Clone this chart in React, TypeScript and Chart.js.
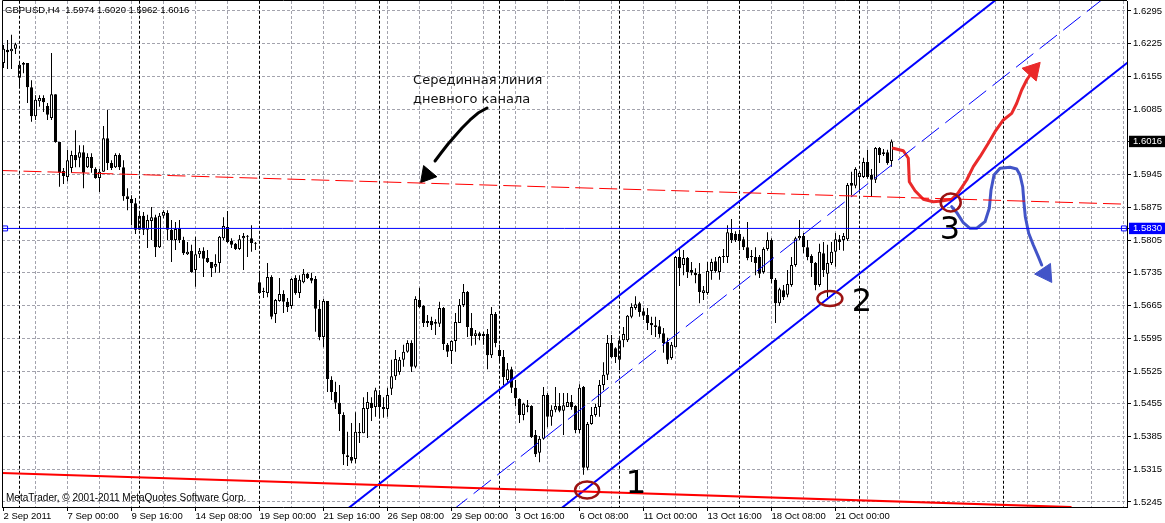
import React, { useEffect, useRef } from 'react';
import { Chart, registerables } from 'chart.js';

Chart.register(...registerables);

// ---------------- candle data (GBPUSD, H4) ----------------
const openPrices = [
  1.6184,1.6212,1.6209,1.6214,1.6152,1.6180,1.6184,1.6132,1.6070,1.6102,
  1.6109,1.6092,1.6066,1.6117,1.6015,1.5953,1.5940,1.5959,1.5987,1.5981,
  1.5993,1.5961,1.5983,1.5957,1.5938,1.5951,1.6023,1.5970,1.5961,1.5987,
  1.5961,1.5899,1.5893,1.5884,1.5827,1.5857,1.5827,1.5846,1.5854,1.5790,
  1.5857,1.5863,1.5827,1.5805,1.5831,1.5805,1.5775,1.5782,1.5741,1.5775,
  1.5782,1.5767,1.5758,1.5748,1.5756,1.5809,1.5833,1.5803,1.5797,1.5786,
  1.5809,1.5812,1.5809,1.5799,1.5715,1.5694,1.5692,1.5726,1.5647,1.5675,
  1.5690,1.5673,1.5664,1.5724,1.5692,1.5715,1.5733,1.5724,1.5722,1.5658,
  1.5598,1.5675,1.5506,1.5480,1.5457,1.5431,1.5345,1.5341,1.5337,1.5395,
  1.5392,1.5444,1.5457,1.5448,1.5474,1.5448,1.5444,1.5487,1.5514,1.5523,
  1.5549,1.5566,1.5585,1.5534,1.5677,1.5664,1.5628,1.5632,1.5626,1.5626,
  1.5660,1.5581,1.5568,1.5589,1.5628,1.5666,1.5694,1.5617,1.5600,1.5606,
  1.5600,1.5604,1.5559,1.5647,1.5570,1.5555,1.5506,1.5529,1.5489,1.5465,
  1.5431,1.5452,1.5450,1.5388,1.5350,1.5380,1.5474,1.5427,1.5442,1.5450,
  1.5440,1.5448,1.5459,1.5450,1.5399,1.5491,1.5318,1.5412,1.5431,1.5448,
  1.5495,1.5517,1.5585,1.5574,1.5549,1.5591,1.5591,1.5641,1.5660,1.5670,
  1.5653,1.5645,1.5628,1.5623,1.5621,1.5606,1.5587,1.5553,1.5576,1.5769,
  1.5752,1.5767,1.5741,1.5735,1.5733,1.5692,1.5692,1.5739,1.5760,1.5737,
  1.5769,1.5769,1.5820,1.5818,1.5818,1.5807,1.5790,1.5769,1.5769,1.5769,
  1.5737,1.5786,1.5805,1.5720,1.5670,1.5698,1.5688,1.5709,1.5752,1.5809,
  1.5814,1.5790,1.5771,1.5756,1.5709,1.5777,1.5733,1.5756,1.5780,1.5807,
  1.5805,1.5807,1.5927,1.5921,1.5940,1.5940,1.5972,1.5944,1.5934,1.6002,
  1.5989,1.5993,1.5974,
];

const highPrices = [
  1.6222,1.6233,1.6244,1.6227,1.6184,1.6186,1.6184,1.6147,1.6115,1.6115,
  1.6115,1.6098,1.6205,1.6117,1.6015,1.5959,1.5998,1.5996,1.6040,1.6008,
  1.6008,1.5991,1.5991,1.5961,1.5957,1.6049,1.6083,1.5976,1.5991,1.5991,
  1.5976,1.5916,1.5901,1.5895,1.5865,1.5865,1.5859,1.5876,1.5859,1.5863,
  1.5869,1.5869,1.5848,1.5844,1.5848,1.5812,1.5801,1.5795,1.5812,1.5788,
  1.5790,1.5784,1.5758,1.5775,1.5814,1.5854,1.5867,1.5809,1.5799,1.5816,
  1.5820,1.5816,1.5837,1.5801,1.5735,1.5703,1.5756,1.5730,1.5679,1.5724,
  1.5698,1.5681,1.5724,1.5730,1.5730,1.5743,1.5735,1.5735,1.5728,1.5677,
  1.5679,1.5675,1.5514,1.5502,1.5495,1.5437,1.5395,1.5414,1.5437,1.5414,
  1.5469,1.5480,1.5469,1.5489,1.5484,1.5469,1.5489,1.5549,1.5570,1.5555,
  1.5581,1.5591,1.5591,1.5685,1.5703,1.5666,1.5645,1.5641,1.5636,1.5673,
  1.5662,1.5585,1.5591,1.5649,1.5679,1.5711,1.5696,1.5649,1.5613,1.5609,
  1.5609,1.5615,1.5662,1.5651,1.5581,1.5570,1.5542,1.5534,1.5506,1.5467,
  1.5457,1.5463,1.5452,1.5399,1.5386,1.5491,1.5478,1.5452,1.5491,1.5478,
  1.5478,1.5478,1.5474,1.5452,1.5497,1.5493,1.5416,1.5448,1.5455,1.5506,
  1.5544,1.5602,1.5602,1.5576,1.5598,1.5619,1.5645,1.5670,1.5685,1.5673,
  1.5660,1.5660,1.5641,1.5641,1.5634,1.5617,1.5596,1.5587,1.5771,1.5788,
  1.5784,1.5769,1.5758,1.5745,1.5756,1.5707,1.5758,1.5765,1.5769,1.5771,
  1.5786,1.5837,1.5850,1.5824,1.5827,1.5812,1.5844,1.5784,1.5790,1.5773,
  1.5790,1.5822,1.5809,1.5724,1.5703,1.5709,1.5741,1.5769,1.5812,1.5848,
  1.5820,1.5805,1.5775,1.5758,1.5797,1.5801,1.5795,1.5801,1.5820,1.5816,
  1.5820,1.5927,1.5951,1.5961,1.5953,1.5981,1.5998,1.5957,1.6004,1.6004,
  1.6000,1.5998,1.6020,
];

const lowPrices = [
  1.6173,1.6171,1.6171,1.6203,1.6132,1.6162,1.6098,1.6058,1.6062,1.6090,
  1.6079,1.6062,1.6062,1.6013,1.5919,1.5925,1.5931,1.5949,1.5961,1.5961,
  1.5916,1.5959,1.5949,1.5936,1.5908,1.5951,1.5955,1.5955,1.5959,1.5955,
  1.5889,1.5869,1.5837,1.5818,1.5827,1.5816,1.5788,1.5805,1.5769,1.5788,
  1.5852,1.5805,1.5758,1.5784,1.5799,1.5773,1.5773,1.5735,1.5705,1.5767,
  1.5726,1.5756,1.5726,1.5735,1.5735,1.5805,1.5799,1.5788,1.5784,1.5784,
  1.5741,1.5769,1.5780,1.5784,1.5692,1.5681,1.5683,1.5636,1.5628,1.5673,
  1.5649,1.5651,1.5658,1.5688,1.5681,1.5713,1.5722,1.5713,1.5609,1.5591,
  1.5576,1.5480,1.5463,1.5444,1.5397,1.5324,1.5322,1.5328,1.5328,1.5371,
  1.5392,1.5382,1.5418,1.5427,1.5427,1.5425,1.5427,1.5474,1.5506,1.5517,
  1.5534,1.5564,1.5523,1.5531,1.5660,1.5619,1.5619,1.5613,1.5602,1.5619,
  1.5570,1.5555,1.5540,1.5566,1.5628,1.5662,1.5598,1.5579,1.5581,1.5591,
  1.5581,1.5529,1.5553,1.5576,1.5544,1.5495,1.5499,1.5478,1.5450,1.5414,
  1.5420,1.5437,1.5382,1.5341,1.5330,1.5378,1.5405,1.5408,1.5437,1.5437,
  1.5388,1.5448,1.5442,1.5392,1.5392,1.5303,1.5313,1.5410,1.5427,1.5427,
  1.5484,1.5506,1.5553,1.5542,1.5527,1.5576,1.5587,1.5638,1.5656,1.5641,
  1.5634,1.5613,1.5602,1.5598,1.5596,1.5564,1.5540,1.5549,1.5576,1.5707,
  1.5730,1.5724,1.5730,1.5713,1.5670,1.5677,1.5688,1.5720,1.5735,1.5720,
  1.5756,1.5756,1.5799,1.5801,1.5784,1.5784,1.5762,1.5758,1.5730,1.5724,
  1.5733,1.5782,1.5713,1.5628,1.5664,1.5677,1.5683,1.5705,1.5748,1.5805,
  1.5777,1.5762,1.5726,1.5698,1.5705,1.5726,1.5683,1.5752,1.5748,1.5784,
  1.5782,1.5803,1.5901,1.5916,1.5912,1.5938,1.5936,1.5897,1.5927,1.5970,
  1.5985,1.5966,1.5962,
];

const closePrices = [
  1.6214,1.6207,1.6214,1.6224,1.6180,1.6184,1.6132,1.6070,1.6105,1.6109,
  1.6100,1.6073,1.6117,1.6015,1.5949,1.5942,1.5976,1.5987,1.5976,1.5993,
  1.5949,1.5983,1.5959,1.5938,1.5951,1.6023,1.5970,1.5959,1.5987,1.5961,
  1.5899,1.5893,1.5884,1.5827,1.5857,1.5827,1.5848,1.5854,1.5790,1.5857,
  1.5865,1.5827,1.5805,1.5829,1.5805,1.5777,1.5780,1.5737,1.5775,1.5782,
  1.5765,1.5758,1.5745,1.5754,1.5812,1.5835,1.5801,1.5795,1.5786,1.5807,
  1.5814,1.5814,1.5799,1.5797,1.5692,1.5696,1.5726,1.5641,1.5677,1.5690,
  1.5673,1.5662,1.5722,1.5692,1.5720,1.5733,1.5724,1.5718,1.5658,1.5598,
  1.5675,1.5508,1.5480,1.5457,1.5433,1.5347,1.5341,1.5333,1.5395,1.5392,
  1.5446,1.5459,1.5446,1.5484,1.5448,1.5444,1.5474,1.5514,1.5551,1.5549,
  1.5566,1.5585,1.5534,1.5679,1.5662,1.5628,1.5632,1.5623,1.5630,1.5660,
  1.5583,1.5566,1.5589,1.5630,1.5666,1.5694,1.5619,1.5600,1.5606,1.5600,
  1.5604,1.5559,1.5647,1.5585,1.5557,1.5512,1.5529,1.5489,1.5467,1.5431,
  1.5455,1.5448,1.5384,1.5347,1.5380,1.5474,1.5427,1.5442,1.5450,1.5440,
  1.5452,1.5459,1.5448,1.5399,1.5489,1.5318,1.5412,1.5431,1.5448,1.5495,
  1.5517,1.5585,1.5555,1.5555,1.5591,1.5604,1.5643,1.5662,1.5668,1.5651,
  1.5643,1.5628,1.5623,1.5619,1.5604,1.5585,1.5549,1.5581,1.5769,1.5745,
  1.5767,1.5737,1.5735,1.5730,1.5694,1.5698,1.5739,1.5758,1.5739,1.5769,
  1.5771,1.5822,1.5805,1.5805,1.5803,1.5790,1.5767,1.5771,1.5756,1.5733,
  1.5786,1.5805,1.5722,1.5670,1.5700,1.5683,1.5711,1.5752,1.5809,1.5814,
  1.5790,1.5769,1.5756,1.5709,1.5780,1.5741,1.5756,1.5780,1.5807,1.5801,
  1.5814,1.5923,1.5921,1.5957,1.5949,1.5972,1.5940,1.5934,1.6002,1.5987,
  1.5993,1.5970,1.6016,
];

// time axis labels (one every LABEL_STEP bars)
const timeLabels = [
  '2 Sep 2011', '7 Sep 00:00', '9 Sep 16:00', '14 Sep 08:00', '19 Sep 00:00',
  '21 Sep 16:00', '26 Sep 08:00', '29 Sep 00:00', '3 Oct 16:00', '6 Oct 08:00',
  '11 Oct 00:00', '13 Oct 16:00', '18 Oct 08:00', '21 Oct 00:00',
];
const LABEL_STEP = 16;
const GRID_STEP = 8;
const LAST_GRID_BAR = 280;

// price axis labels
const priceTicks = [
  1.5245, 1.5315, 1.5385, 1.5455, 1.5525, 1.5595, 1.5665, 1.5735, 1.5805,
  1.5830, 1.5875, 1.5945, 1.6016, 1.6085, 1.6155, 1.6225, 1.6295,
];
const bidPrice = 1.6016;
const hLinePrice = 1.5830;

// weekly period separators (bar index)
const weekSeparators = [4, 34, 64, 94, 124, 154, 184, 214, 250];

// visible ranges
const X_MIN = -0.375;
const X_MAX = 280.875;
const Y_MIN = 1.523424;
const Y_MAX = 1.631636;

// ---------------- drawn objects (bar index, price) ----------------
const upperChannel = [{ x: 84.125, y: 1.52176 }, { x: 251.625, y: 1.63425 }];
const lowerChannel = [{ x: 136.625, y: 1.52124 }, { x: 281.625, y: 1.61887 }];
const middleChannel = [{ x: 111.625, y: 1.52231 }, { x: 276.625, y: 1.63326 }];
const dailyMidLine = [{ x: -1, y: 1.5954 }, { x: 282, y: 1.58815 }];
const dailyLowLine = [{ x: -1, y: 1.5307 }, { x: 267, y: 1.5234 }];
const hLine = [{ x: -1, y: hLinePrice }, { x: 282, y: hLinePrice }];
const hLineAnchors = [{ x: 0.4, y: hLinePrice }, { x: 280.1, y: hLinePrice }];

const redPath = [
  { x: 222.45, y: 1.60014 }, { x: 224.95, y: 1.59962 }, { x: 226.2, y: 1.598 },
  { x: 226.45, y: 1.59299 }, { x: 227.88, y: 1.59107 }, { x: 229.95, y: 1.58923 },
  { x: 232.45, y: 1.58872 }, { x: 234.55, y: 1.58886 }, { x: 237.05, y: 1.58923 },
  { x: 238.7, y: 1.59064 }, { x: 240.8, y: 1.59336 }, { x: 242.45, y: 1.5962 },
  { x: 244.13, y: 1.59834 }, { x: 246.2, y: 1.6012 }, { x: 247.88, y: 1.60369 },
  { x: 249.95, y: 1.60619 }, { x: 252.05, y: 1.60762 }, { x: 253.3, y: 1.60976 },
  { x: 254.55, y: 1.6126 }, { x: 255.8, y: 1.61474 }, { x: 256.63, y: 1.61581 },
];
const redHead = [{ x: 257.33, y: 1.61677 }];

const bluePath = [
  { x: 237.05, y: 1.58765 }, { x: 238.45, y: 1.58623 }, { x: 239.95, y: 1.58422 },
  { x: 241.63, y: 1.58303 }, { x: 243.3, y: 1.58303 }, { x: 245.38, y: 1.58444 },
  { x: 246.45, y: 1.5873 }, { x: 246.88, y: 1.59122 }, { x: 247.63, y: 1.59443 },
  { x: 249.13, y: 1.59586 }, { x: 251.63, y: 1.59607 }, { x: 253.3, y: 1.59571 },
  { x: 254.13, y: 1.59443 }, { x: 254.8, y: 1.59192 }, { x: 255.13, y: 1.58837 },
  { x: 255.45, y: 1.58551 }, { x: 256.3, y: 1.58196 }, { x: 257.45, y: 1.57946 },
  { x: 258.7, y: 1.57695 }, { x: 259.55, y: 1.57518 },
];
const blueHead = [{ x: 260.53, y: 1.5734 }];

const blackPath = [
  { x: 120.88, y: 1.60875 }, { x: 118.63, y: 1.60768 }, { x: 116.63, y: 1.60619 },
  { x: 114.63, y: 1.60448 }, { x: 112.88, y: 1.60276 }, { x: 111.13, y: 1.60105 },
  { x: 109.38, y: 1.59913 }, { x: 107.88, y: 1.59742 },
];
const blackHead = [{ x: 105.88, y: 1.59443 }];

const circleCenters = [
  { x: 145.9, y: 1.52706 },
  { x: 206.6, y: 1.56801 },
  { x: 236.8, y: 1.58854 },
];
const circleRadii = [[12, 8.5], [12.5, 7.5], [10, 9]];

const pointLabels = [
  { text: '1', x: 158.1, y: 1.52813 },
  { text: '2', x: 214.6, y: 1.56705 },
  { text: '3', x: 236.6, y: 1.58245 },
];

const noteLines = ['Серединная линия', 'дневного канала'];
const notePos = { x: 102.4, y: 1.6147 };

const titleText = 'GBPUSD,H4  1.5974 1.6020 1.5962 1.6016';
const copyrightText = 'MetaTrader, © 2001-2011 MetaQuotes Software Corp.';

// ---------------- styles ----------------
const W = 1165;
const H = 523;
const GRID_COLOR = '#a3a3ad';
const AXIS_FONT = { family: '"Liberation Sans", Arial, sans-serif', size: 9.5 };
const CLEAR = 'rgba(0,0,0,0)';

const zeroPadding = (axis: any) => {
  axis.paddingLeft = 0;
  axis.paddingRight = 0;
  axis.paddingTop = 0;
  axis.paddingBottom = 0;
};

const overlayPlugin = {
  id: 'mtOverlay',
  beforeDraw(chart: any) {
    const { ctx, width, height } = chart;
    ctx.save();
    ctx.fillStyle = '#ffffff';
    ctx.fillRect(0, 0, width, height);
    ctx.restore();
  },
  afterDatasetsDraw(chart: any) {
    const { ctx, chartArea, scales } = chart;
    const xs = scales.x;
    const ys = scales.y;
    ctx.save();
    ctx.beginPath();
    ctx.rect(chartArea.left, chartArea.top, chartArea.right - chartArea.left, chartArea.bottom - chartArea.top);
    ctx.clip();

    ctx.strokeStyle = '#9b1212';
    ctx.lineWidth = 2.5;
    circleCenters.forEach((c, k) => {
      ctx.beginPath();
      ctx.ellipse(xs.getPixelForValue(c.x), ys.getPixelForValue(c.y), circleRadii[k][0], circleRadii[k][1], 0, 0, Math.PI * 2);
      ctx.stroke();
    });

    ctx.fillStyle = '#000000';
    ctx.font = '32px "DejaVu Sans"';
    ctx.textAlign = 'center';
    ctx.textBaseline = 'middle';
    pointLabels.forEach((p) => ctx.fillText(p.text, xs.getPixelForValue(p.x), ys.getPixelForValue(p.y)));

    ctx.font = '13px "DejaVu Sans"';
    ctx.textAlign = 'left';
    ctx.fillStyle = '#111111';
    const nx = xs.getPixelForValue(notePos.x);
    const ny = ys.getPixelForValue(notePos.y);
    noteLines.forEach((t, k) => ctx.fillText(t, nx, ny + k * 19));

    ctx.fillStyle = '#000000';
    ctx.font = '9.5px "Liberation Sans", Arial, sans-serif';
    ctx.fillText(titleText, chartArea.left + 3, chartArea.top + 9.5);
    ctx.font = '10px "Liberation Sans", Arial, sans-serif';
    ctx.fillText(copyrightText, chartArea.left + 4, chartArea.bottom - 9);
    ctx.restore();

    ctx.save();
    ctx.strokeStyle = '#000000';
    ctx.lineWidth = 1;
    ctx.beginPath();
    ctx.moveTo(chartArea.left + 0.5, chartArea.bottom);
    ctx.lineTo(chartArea.left + 0.5, chartArea.top - 0.5);
    ctx.lineTo(chartArea.right, chartArea.top - 0.5);
    ctx.stroke();
    ctx.restore();
  },
};

function lineSet(data: any[], color: string, width: number, dash: number[] = [], round = false) {
  return {
    type: 'line',
    data,
    borderColor: color,
    backgroundColor: color,
    borderWidth: width,
    borderDash: dash,
    borderCapStyle: round ? 'round' : 'butt',
    borderJoinStyle: round ? 'round' : 'miter',
    pointRadius: 0,
    pointHoverRadius: 0,
    fill: false,
    tension: 0,
    order: 0,
  };
}

function headSet(data: any[], color: string, rotation: number, radius: number) {
  return {
    type: 'scatter',
    data,
    showLine: false,
    pointStyle: 'triangle',
    pointRotation: rotation,
    pointRadius: radius,
    pointHoverRadius: radius,
    pointBackgroundColor: color,
    pointBorderColor: color,
    pointBorderWidth: 1,
    order: 0,
  };
}

export default function App() {
  const ref = useRef<HTMLCanvasElement | null>(null);

  useEffect(() => {
    document.body.style.margin = '0';
    const canvas = ref.current;
    if (!canvas) return;

    const idx = openPrices.map((_, i) => i);
    const wickData = idx.map((i) => ({ x: i, y: [lowPrices[i], highPrices[i]] }));
    const bodyData = idx.map((i) => ({ x: i, y: [openPrices[i], closePrices[i]] }));
    const bodyFill = idx.map((i) => (closePrices[i] > openPrices[i] ? '#ffffff' : '#000000'));

    const separatorSets = weekSeparators.map((b) =>
      lineSet([{ x: b, y: Y_MIN - 0.01 }, { x: b, y: Y_MAX + 0.01 }], '#000000', 1, [3, 2])
    );

    const special = (v: number) => v === bidPrice || v === hLinePrice;

    const chart = new Chart(canvas, {
      type: 'bar',
      data: {
        datasets: [
          lineSet(dailyLowLine, '#ff0000', 2),
          lineSet(dailyMidLine, '#ff0000', 1, [18, 6]),
          lineSet(upperChannel, '#0000ff', 2),
          lineSet(lowerChannel, '#0000ff', 2),
          lineSet(middleChannel, '#0000ff', 1, [22, 8]),
          lineSet(hLine, '#0000ff', 1),
          {
            type: 'scatter', data: hLineAnchors, showLine: false, pointStyle: 'rect', pointRadius: 3.5,
            pointBackgroundColor: '#ffffff', pointBorderColor: '#0000ff', pointBorderWidth: 1, order: 0,
          },
          lineSet(redPath, '#ea2a2a', 3, [], true),
          headSet(redHead, '#ea2a2a', 42, 11),
          lineSet(bluePath, '#4254c8', 3, [], true),
          headSet(blueHead, '#4254c8', 146, 11),
          lineSet(blackPath, '#000000', 3, [], true),
          headSet(blackHead, '#000000', 220, 10),
          ...separatorSets,
          {
            type: 'bar', data: bodyData, grouped: false, barThickness: 3, maxBarThickness: 3,
            backgroundColor: bodyFill, borderColor: '#000000', borderWidth: 1, borderSkipped: false,
            minBarLength: 1, inflateAmount: 0, order: 1,
          },
          {
            type: 'bar', data: wickData, grouped: false, barThickness: 1, maxBarThickness: 1,
            backgroundColor: '#000000', borderWidth: 0, inflateAmount: 0, order: 2,
          },
        ] as any,
      },
      options: {
        animation: false,
        responsive: false,
        devicePixelRatio: 1,
        events: [],
        layout: { autoPadding: false, padding: { left: 2, top: 1, right: 0, bottom: 0 } },
        plugins: { legend: { display: false }, tooltip: { enabled: false }, title: { display: false } },
        scales: {
          x: {
            type: 'linear',
            position: 'bottom',
            min: X_MIN,
            max: X_MAX,
            bounds: 'data',
            offset: false,
            afterBuildTicks: (axis: any) => {
              const t: any[] = [];
              for (let v = 0; v <= LAST_GRID_BAR; v += GRID_STEP) t.push({ value: v });
              axis.ticks = t;
            },
            afterFit: (axis: any) => { axis.height = 16; zeroPadding(axis); },
            ticks: {
              autoSkip: false,
              maxRotation: 0,
              minRotation: 0,
              align: 'start',
              padding: 0,
              labelOffset: 0,
              color: '#000000',
              font: AXIS_FONT,
              callback: (v: any) => {
                const n = Number(v);
                return n % LABEL_STEP === 0 && timeLabels[n / LABEL_STEP] ? timeLabels[n / LABEL_STEP] : '';
              },
            },
            grid: {
              offset: false,
              color: (c: any) => (c.tick && c.tick.value === 0 ? CLEAR : GRID_COLOR),
              lineWidth: 1,
              drawTicks: true,
              tickLength: 4,
              tickColor: (c: any) => {
                const n = c.tick ? c.tick.value : -1;
                return n % LABEL_STEP === 0 && timeLabels[n / LABEL_STEP] ? '#000000' : CLEAR;
              },
            },
            border: { display: true, color: '#000000', width: 1, dash: [3, 2] },
          },
          y: {
            type: 'linear',
            position: 'right',
            min: Y_MIN,
            max: Y_MAX,
            bounds: 'data',
            afterBuildTicks: (axis: any) => {
              axis.ticks = priceTicks.map((v) => ({ value: v }));
            },
            afterFit: (axis: any) => { axis.width = 38; zeroPadding(axis); },
            ticks: {
              autoSkip: false,
              padding: 2,
              font: AXIS_FONT,
              color: (c: any) => (c.tick && special(c.tick.value) ? '#ffffff' : '#000000'),
              showLabelBackdrop: (c: any) => !!(c.tick && special(c.tick.value)),
              backdropColor: (c: any) => (c.tick && c.tick.value === bidPrice ? '#000000' : '#0000ff'),
              backdropPadding: { left: 4, right: 4, top: 0, bottom: 0 },
              callback: (v: any) => Number(v).toFixed(4),
            },
            grid: {
              color: (c: any) => (c.tick && c.tick.value === hLinePrice ? CLEAR : GRID_COLOR),
              lineWidth: 1,
              drawTicks: true,
              tickLength: 4,
              tickColor: '#000000',
            },
            border: { display: true, color: '#000000', width: 1, dash: [3, 2] },
          },
        },
      } as any,
      plugins: [overlayPlugin],
    } as any);

    return () => chart.destroy();
  }, []);

  return (
    <canvas
      ref={ref}
      width={W}
      height={H}
      style={{ display: 'block', position: 'absolute', left: 0, top: 0, width: W, height: H }}
    />
  );
}
